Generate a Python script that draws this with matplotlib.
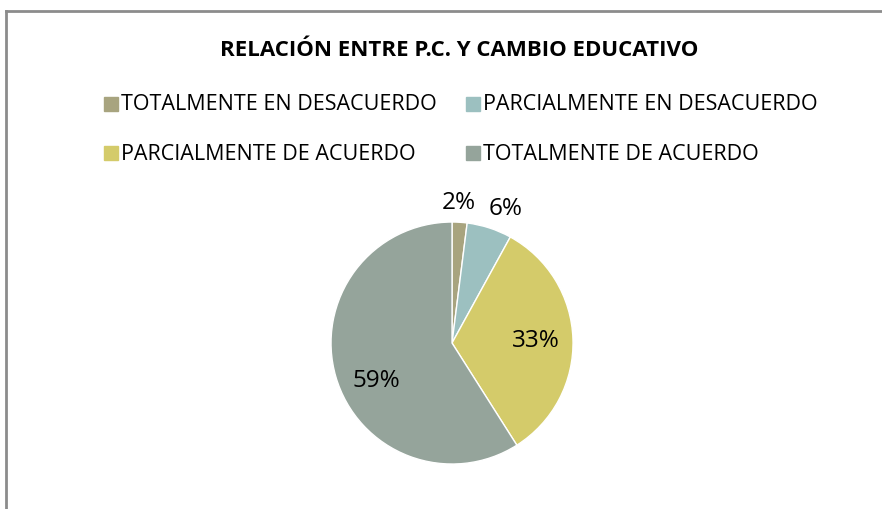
import numpy as np
import matplotlib.pyplot as plt
from matplotlib.patches import Rectangle

categories = ['TOTALMENTE EN DESACUERDO', 'PARCIALMENTE EN DESACUERDO',
              'PARCIALMENTE DE ACUERDO', 'TOTALMENTE DE ACUERDO']
values = [2, 6, 33, 59]
colors = ['#A8A47F', '#9CC0C0', '#D4CB6A', '#95A49B']
title = 'RELACIÓN ENTRE P.C. Y CAMBIO EDUCATIVO'

plt.rcParams['font.family'] = ['Open Sans', 'DejaVu Sans']

fig = plt.figure(figsize=(8.82, 5.10), dpi=100)

# outer chart border (left and top visible)
fig.add_artist(plt.Line2D([6/882, 6/882], [0, 1 - 12/510], color='#8C8C8C', lw=2,
                          transform=fig.transFigure))
fig.add_artist(plt.Line2D([6/882, 1], [1 - 12/510, 1 - 12/510], color='#8C8C8C', lw=2,
                          transform=fig.transFigure))

fig.text(459/882, 1 - 50/510, title, ha='center', va='center',
         fontsize=16, fontweight='bold')

# legend, two columns by two rows
leg_x = [104, 466]
leg_y = [105, 154]
for i, (cat, col) in enumerate(zip(categories, colors)):
    x = leg_x[i % 2]
    y = leg_y[i // 2]
    fig.add_artist(Rectangle((x/882, 1 - (y + 7)/510), 14/882, 14/510,
                             color=col, transform=fig.transFigure))
    fig.text((x + 17)/882, 1 - y/510, cat, ha='left', va='center', fontsize=15.5)

ax = fig.add_axes([0.3753, 0.0882, 0.2744, 0.4745])
wedges, _ = ax.pie(values, colors=colors, startangle=90, counterclock=False,
                   wedgeprops=dict(edgecolor='white', linewidth=1))
ax.set_xlim(-1, 1)
ax.set_ylim(-1, 1)
ax.set_aspect('equal')

# label distance (in radii) and angle shift (deg) from the wedge middle
label_dist = [1.166, 1.202, 0.694, 0.698]
angle_shift = [0.7, -3.8, 0, 10]
for w, v, d, s in zip(wedges, values, label_dist, angle_shift):
    ang = np.deg2rad((w.theta1 + w.theta2) / 2 + s)
    ax.text(d * np.cos(ang), d * np.sin(ang), f'{v}%', ha='center', va='center',
            fontsize=17.5, clip_on=False)

fig.savefig('out.png', dpi=100)
